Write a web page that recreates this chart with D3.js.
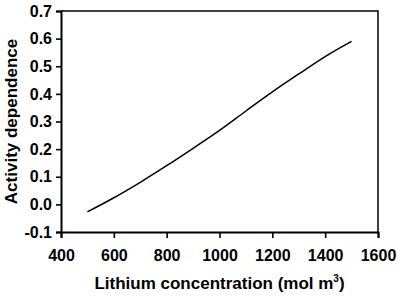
<!DOCTYPE html>
<html>
<head>
<meta charset="utf-8">
<script src="https://cdn.jsdelivr.net/npm/d3@7"></script>
<style>
  body { margin: 0; background: #fff; }
  text { font-family: "Liberation Sans", Arial, sans-serif; font-weight: bold; fill: #000; }
</style>
</head>
<body>
<svg id="chart" width="400" height="296"></svg>
<script>
const concentration = [500, 600, 700, 800, 900, 1000, 1100, 1200, 1300, 1400, 1500];
const activity = [-0.027, 0.024, 0.080, 0.140, 0.203, 0.268, 0.338, 0.407, 0.472, 0.535, 0.590];
const xTicks = [400, 600, 800, 1000, 1200, 1400, 1600];
const yTicks = [-0.1, 0, 0.1, 0.2, 0.3, 0.4, 0.5, 0.6, 0.7];

const margin = { top: 11, right: 22, bottom: 64, left: 61 };
const width = 400 - margin.left - margin.right;
const height = 296 - margin.top - margin.bottom;

const svg = d3.select("#chart");
const g = svg.append("g").attr("transform", `translate(${margin.left},${margin.top})`);

const x = d3.scaleLinear().domain([400, 1600]).range([0, width]);
const y = d3.scaleLinear().domain([-0.1, 0.7]).range([height, 0]);

// frame top/right
g.append("path")
    .attr("d", `M0,0H${width}V${height}`)
    .attr("fill", "none")
    .attr("stroke", "#000")
    .attr("stroke-width", 1.5);

const xAxis = g.append("g")
    .attr("transform", `translate(0,${height})`)
    .call(d3.axisBottom(x).tickValues(xTicks).tickSize(6).tickPadding(12).tickFormat(d3.format("d")));
const yAxis = g.append("g")
    .call(d3.axisLeft(y).tickValues(yTicks).tickSize(5).tickPadding(4).tickFormat(d3.format(".1f")));

[xAxis, yAxis].forEach(a => {
    a.select(".domain").attr("stroke-width", 2);
    a.selectAll(".tick line").attr("stroke-width", 1.6);
    a.selectAll(".tick text").attr("font-size", 16).style("font-family", "Liberation Sans, Arial, sans-serif").style("font-weight", "bold");
});
yAxis.selectAll(".tick text").text(d => d < 0 ? "-" + Math.abs(d).toFixed(1) : d.toFixed(1));

const line = d3.line()
    .x((d, i) => x(concentration[i]))
    .y(d => y(d))
    .curve(d3.curveMonotoneX);

g.append("path")
    .datum(activity)
    .attr("d", line)
    .attr("fill", "none")
    .attr("stroke", "#000")
    .attr("stroke-width", 1.5);

const xTitle = svg.append("text")
    .attr("x", margin.left + width / 2)
    .attr("y", 289)
    .attr("text-anchor", "middle")
    .attr("font-size", 17);
xTitle.append("tspan").text("Lithium concentration (mol m");
xTitle.append("tspan").attr("font-size", 10).attr("dy", -7).text("3");
xTitle.append("tspan").attr("dy", 7).text(")");

svg.append("text")
    .attr("transform", `translate(17,${margin.top + height / 2})rotate(-90)`)
    .attr("text-anchor", "middle")
    .attr("font-size", 17)
    .text("Activity dependence");
</script>
</body>
</html>
